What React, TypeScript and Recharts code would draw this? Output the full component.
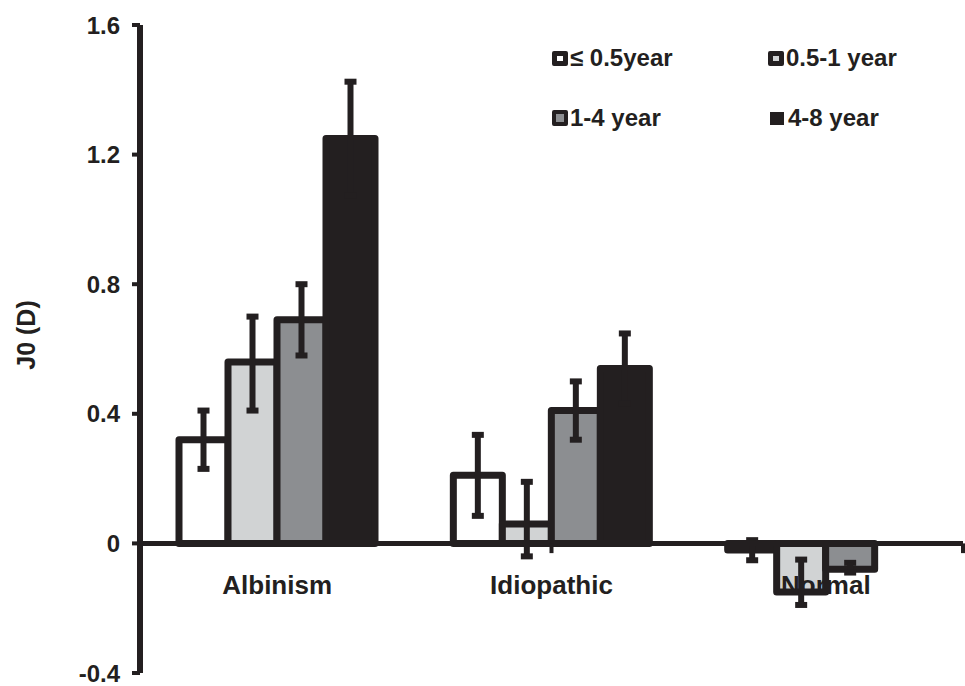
import { Bar, BarChart, ErrorBar, Legend, ReferenceLine, XAxis, YAxis } from "recharts";

const categories = ["Albinism", "Idiopathic", "Normal"];

// mean J0 per age group, one array per series (no 4-8 year group for Normal)
const upTo05 = [0.32, 0.21, -0.02];
const from05to1 = [0.56, 0.06, -0.15];
const from1to4 = [0.69, 0.41, -0.08];
const from4to8 = [1.25, 0.54, null];

// error as [below, above]
const upTo05Err = [[0.09, 0.09], [0.125, 0.125], [0.032, 0.03]];
const from05to1Err = [[0.15, 0.14], [0.1, 0.13], [0.04, 0.1]];
const from1to4Err = [[0.11, 0.11], [0.09, 0.09], [0.01, 0.02]];
const from4to8Err = [[0.175, 0.175], [0.108, 0.108], null];

const yTicks = [-0.4, 0, 0.4, 0.8, 1.2, 1.6];
const groupEdges = [1, 2, 3];

const seriesNames = ["≤ 0.5year", "0.5-1 year", "1-4 year", "4-8 year"];
const seriesFills = ["#ffffff", "#d1d3d4", "#8c8e91", "#231f20"];

const INK = "#231f20";
const FONT = '"Liberation Sans", Arial, sans-serif';

const data = categories.map((c, i) => ({
  category: c,
  s0: upTo05[i],
  s1: from05to1[i],
  s2: from1to4[i],
  s3: from4to8[i],
  e0: upTo05Err[i],
  e1: from05to1Err[i],
  e2: from1to4Err[i],
  e3: from4to8Err[i],
}));

const CategoryTick = (props: any) => {
  const { x, y, payload } = props;
  return (
    <text x={x} y={y} dy={-79} textAnchor='middle' fontFamily={FONT} fontWeight='bold' fontSize={26} fill={INK}>
      {payload.value}
    </text>
  );
};

const YLabel = (props: any) => {
  const { viewBox } = props;
  const cx = viewBox.x + 6;
  const cy = viewBox.y + viewBox.height / 2 - 14;
  return (
    <text
      x={cx}
      y={cy}
      transform={`rotate(-90 ${cx} ${cy})`}
      textAnchor='middle'
      dominantBaseline='central'
      fontFamily={FONT}
      fontWeight='bold'
      fontSize={25}
      fill={INK}
    >
      J0 (D)
    </text>
  );
};

function LegendIcon({ idx }: { idx: number }) {
  if (idx === 3) {
    return <span style={{ display: "inline-block", width: 14, height: 13, background: INK, marginLeft: 2, marginRight: 4 }} />;
  }
  return (
    <span
      style={{
        display: "inline-block",
        width: idx === 2 ? 8 : 6,
        height: idx === 2 ? 8 : 5,
        border: `${idx === 2 ? 4 : 5}px solid ${INK}`,
        borderRadius: 2,
        background: seriesFills[idx],
        marginRight: 2,
      }}
    />
  );
}

const renderLegend = () => (
  <div style={{ display: "grid", gridTemplateColumns: "216px 200px", rowGap: 32, fontFamily: FONT, fontWeight: "bold", fontSize: 24, color: INK }}>
    {seriesNames.map((n, i) => (
      <div key={n} style={{ display: "flex", alignItems: "center", height: 28, whiteSpace: "nowrap" }}>
        <LegendIcon idx={i} />
        <span>{n}</span>
      </div>
    ))}
  </div>
);

export default function App() {
  const keys = ["s0", "s1", "s2", "s3"];
  return (
    <div style={{ position: "absolute", left: 0, top: 0, width: 965, height: 686, background: "#fff" }}>
      <BarChart width={965} height={686} data={data} margin={{ top: 25, right: 2, left: 20, bottom: -17 }} barGap={0}>
        <XAxis dataKey='category' height={30} axisLine={false} tickLine={false} tickSize={0} tickMargin={0} interval={0} tick={<CategoryTick />} />
        <XAxis xAxisId='num' type='number' domain={[0, 3]} hide />
        <YAxis
          width={120}
          domain={[-0.4, 1.6]}
          ticks={yTicks}
          interval={0}
          tickFormatter={(v: number) => (v === 0 ? "0" : v.toFixed(1))}
          axisLine={{ stroke: INK, strokeWidth: 6 }}
          tickLine={{ stroke: INK, strokeWidth: 4 }}
          tickSize={8}
          tickMargin={12}
          tick={{ fontFamily: FONT, fontWeight: "bold", fontSize: 24, fill: INK }}
          label={<YLabel />}
        />
        <Legend layout='horizontal' verticalAlign='middle' align='center' wrapperStyle={{ top: 44, left: 552, width: 420 }} content={renderLegend} />
        {keys.map((k, i) => (
          <Bar
            key={k}
            dataKey={k}
            name={seriesNames[i]}
            fill={seriesFills[i]}
            stroke={INK}
            strokeWidth={7}
            strokeLinejoin='round'
            barSize={49}
            isAnimationActive={false}
          >
            <ErrorBar dataKey={`e${i}`} direction='y' width={6} strokeWidth={6} stroke={INK} isAnimationActive={false} />
          </Bar>
        ))}
        <ReferenceLine y={0} stroke={INK} strokeWidth={5} />
        {groupEdges.map((g) => (
          <ReferenceLine
            key={g}
            xAxisId='num'
            segment={[
              { x: g, y: 0 },
              { x: g, y: -0.03 },
            ]}
            stroke={INK}
            strokeWidth={4}
          />
        ))}
      </BarChart>
    </div>
  );
}
